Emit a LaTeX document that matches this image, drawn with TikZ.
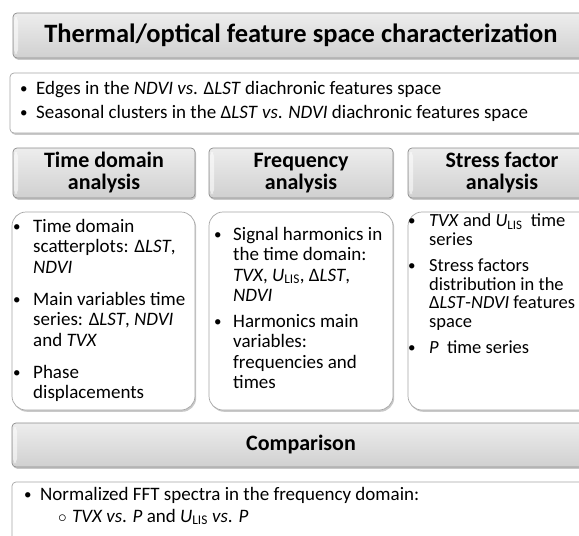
\documentclass[tikz,border=0pt]{standalone}
\usepackage{fontspec}
\setmainfont{Carlito}
\usetikzlibrary{shadows}
\definecolor{hdrtop}{HTML}{EDEDED}
\definecolor{hdrbot}{HTML}{D0D0D0}
\definecolor{hdrline}{HTML}{8C8C8C}
\definecolor{boxline}{HTML}{A6A6A6}
\newcommand{\dLST}{Δ\textit{LST}}
\newcommand{\Ulis}{\textit{U}\textsubscript{LIS}}
\newcommand{\bl}[1][19pt]{\llap{\makebox[#1][l]{\raisebox{1pt}{\fontsize{15}{15}\selectfont•}}}\strut\ignorespaces}
\tikzset{
  shad/.style={drop shadow={shadow xshift=1.2pt, shadow yshift=-1.8pt, opacity=0.35, fill=black!60}},
  hdrbox/.style={shad, draw=hdrline, line width=0.7pt, rounded corners=4pt,
    top color=hdrtop, bottom color=hdrbot, inner sep=0pt, align=center,
    font=\bfseries\fontsize{22}{22}\selectfont,
    path picture={
      \fill[white,opacity=0.55] ([xshift=1pt,yshift=-4pt]path picture bounding box.north west) rectangle ([xshift=5pt,yshift=4pt]path picture bounding box.south west);
    }},
  txtbox/.style={shad, draw=boxline, line width=0.7pt, rounded corners=4pt, fill=white, inner sep=0pt},
  cntbox/.style={shad, draw=boxline, line width=0.7pt, rounded corners=14pt, fill=white, inner sep=0pt},
  itm/.style={inner sep=0pt, anchor=north west, align=left, font=\fontsize{19}{20.5}\selectfont},
  itmc/.style={itm, font=\fontsize{18.5}{18.5}\selectfont},
}
\begin{document}
\begin{tikzpicture}[x=1pt,y=-1pt]
\useasboundingbox (0,0) rectangle (579,536);
\clip (0,0) rectangle (579,536);
\fill[white] (0,0) rectangle (579,536);
% title
\node[hdrbox, minimum width=583pt, minimum height=45pt, font=\bfseries\fontsize{26.5}{28}\selectfont] (title) at (304.5,35.5) {\phantom{}};
\node[inner sep=0pt, font=\bfseries\fontsize{26.5}{28}\selectfont] (titlet) at (301,35.5) {Thermal/optical feature space characterization};
% top bullet box
\node[txtbox, minimum width=586pt, minimum height=60pt] (feat) at (303,103) {};
\node[itm] (f1) at (36,80.2) {\bl[16pt]Edges in the \textit{NDVI vs}. \dLST{} diachronic features space};
\node[itm] (f2) at (36,103.7) {\bl[16pt]Seasonal clusters in the \dLST{} \textit{vs}. \textit{NDVI} diachronic features space};
% headers
\node[hdrbox, minimum width=182pt, minimum height=50pt] (h1) at (104,173) {Time domain\\analysis};
\node[hdrbox, minimum width=184pt, minimum height=50pt] (h2) at (301,173) {Frequency\\analysis};
\node[hdrbox, minimum width=188pt, minimum height=50pt] (h3) at (502,173) {Stress factor\\analysis};
% content boxes
\node[cntbox, minimum width=183pt, minimum height=198pt] (c1) at (103.5,311) {};
\node[cntbox, minimum width=184pt, minimum height=198pt] (c2) at (301,311) {};
\node[cntbox, minimum width=188pt, minimum height=198pt] (c3) at (502,311) {};
% col 1
\node[itm] (c1a) at (33,217.6) {\bl[20pt]Time domain\\scatterplots: \dLST,\\\textit{NDVI}};
\node[itm] (c1b) at (33,290.6) {\bl[20pt]Main variables time\\series: \dLST, \textit{NDVI}\\and \textit{TVX}};
\node[itm] (c1c) at (33,363.6) {\bl[20pt]Phase\\displacements};
% col 2
\node[itm] (c2a) at (233,225.6) {\bl[19pt]Signal harmonics in\\the time domain:\\\textit{TVX}, \Ulis, \dLST,\\\textit{NDVI}};
\node[itm] (c2b) at (233,312.6) {\bl[19pt]Harmonics main\\variables:\\frequencies and\\times};
% col 3
\node[itmc] (c3a) at (429,213.5) {\bl[21pt]\textit{TVX} and \Ulis\ \ time\\series};
\node[itmc] (c3b) at (429,258.5) {\bl[21pt]Stress factors\\distribution in the\\\dLST-\textit{NDVI} features\\space};
\node[itmc] (c3c) at (429,340.5) {\bl[21pt]\textit{P}\ \ time series};
% comparison
\node[hdrbox, minimum width=586pt, minimum height=44pt] (cmp) at (305,445) {\phantom{}};
\node[inner sep=0pt, font=\bfseries\fontsize{22}{22}\selectfont] (cmpt) at (301,445) {Comparison};
% bottom box
\node[txtbox, minimum width=586pt, minimum height=70pt] (fft) at (305,517) {};
\node[itm] (b1) at (40,485.6) {\bl[16pt]Normalized FFT spectra in the frequency domain:};
\node[itm] (b2) at (72,507.6) {\llap{\makebox[14pt][l]{\fontsize{18}{18}\selectfont$\circ$}}\strut\textit{TVX vs}. \textit{P} and \Ulis\ \textit{vs}. \textit{P}};
\end{tikzpicture}
\end{document}
